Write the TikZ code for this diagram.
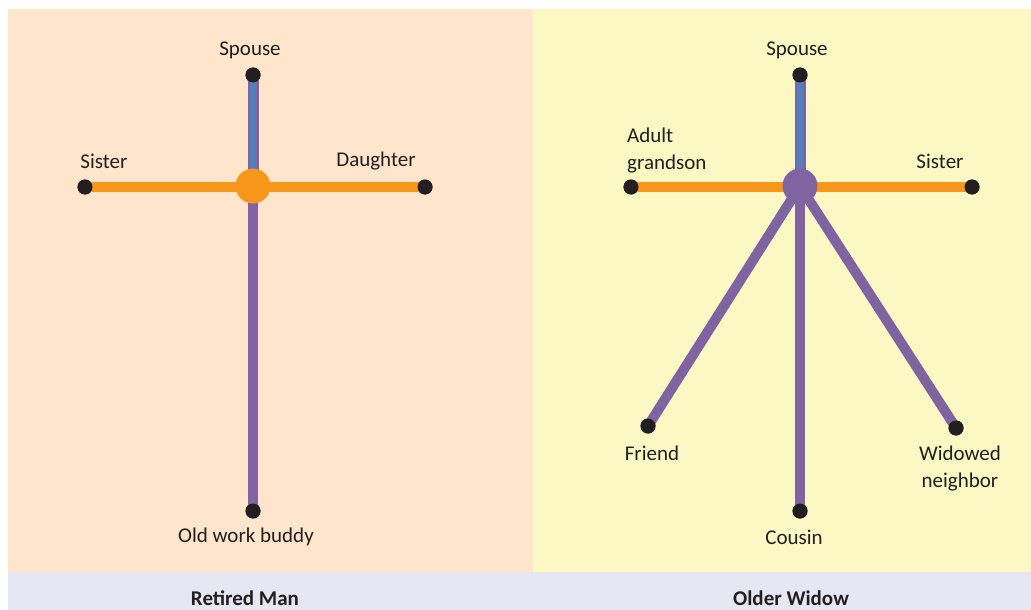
\documentclass[tikz,border=0pt]{standalone}
\usepackage{fontspec}
\setmainfont{Carlito}
\definecolor{peach}{RGB}{254,229,204}
\definecolor{paleyellow}{RGB}{252,248,196}
\definecolor{lavender}{RGB}{231,230,243}
\definecolor{tieorange}{RGB}{247,152,29}
\definecolor{tiepurple}{RGB}{128,100,162}
\definecolor{tieblue}{RGB}{79,129,189}
\definecolor{dotblack}{RGB}{35,31,32}
\begin{document}
\begin{tikzpicture}[x=1pt,y=-1pt,
  dot/.style={circle,fill=dotblack,inner sep=0pt,minimum size=15pt},
  hub/.style={circle,inner sep=0pt,minimum size=35pt},
  lbl/.style={font=\fontsize{21}{27}\selectfont,text=dotblack,inner sep=0pt},
  title/.style={font=\fontsize{21}{27}\selectfont\bfseries,text=dotblack,inner sep=0pt},
  orangetie/.style={draw=tieorange,line width=10pt},
  purpletie/.style={draw=tiepurple,line width=10pt},
  spouseouter/.style={draw=tiepurple,line width=11pt},
  spouseinner/.style={draw=tieblue,line width=6pt}]
\useasboundingbox (0,0) rectangle (1031,610);
\fill[white] (0,0) rectangle (1031,610);
\fill[peach] (8,9) rectangle (533,572);
\fill[paleyellow] (533,9) rectangle (1031,572);
\fill[lavender] (8,572) rectangle (1031,610);

% ---- Retired Man ----
\coordinate (c1) at (253,186);
\node[dot] (s1) at (253,75) {};
\node[dot] (sis1) at (85,187) {};
\node[dot] (d1) at (425,187) {};
\node[dot] (b1) at (253,511) {};
\draw[spouseouter] (c1) -- (s1.center);
\draw[spouseinner] (c1) -- (s1.center);
\draw[purpletie] (c1) -- (b1.center);
\draw[orangetie] (sis1.center) -- (d1.center);
\node[hub,fill=tieorange] (h1) at (c1) {};
\node[dot] at (s1) {};
\node[dot] at (sis1) {};
\node[dot] at (d1) {};
\node[dot] at (b1) {};
\node[lbl] (ls1) at (250,50) {Spouse};
\node[lbl] (lsis1) at (104,161) {Sister};
\node[lbl] (ld1) at (376,161) {Daughter};
\node[lbl] (lb1) at (246,537) {Old work buddy};
\node[title] (t1) at (245,598) {Retired Man};

% ---- Older Widow ----
\coordinate (c2) at (800,186);
\node[dot] (s2) at (800,75) {};
\node[dot] (g2) at (631,187) {};
\node[dot] (sis2) at (972,187) {};
\node[dot] (f2) at (648,426) {};
\node[dot] (w2) at (956,428) {};
\node[dot] (co2) at (800,511) {};
\draw[spouseouter] (c2) -- (s2.center);
\draw[spouseinner] (c2) -- (s2.center);
\draw[orangetie] (g2.center) -- (sis2.center);
\draw[purpletie] (c2) -- (f2.center);
\draw[purpletie] (c2) -- (w2.center);
\draw[purpletie] (c2) -- (co2.center);
\node[hub,fill=tiepurple] (h2) at (c2) {};
\node[dot] at (s2) {};
\node[dot] at (g2) {};
\node[dot] at (sis2) {};
\node[dot] at (f2) {};
\node[dot] at (w2) {};
\node[dot] at (co2) {};
\node[lbl] (ls2) at (797,50) {Spouse};
\node[lbl,anchor=west,align=left] (lg2) at (627,151) {Adult\\grandson};
\node[lbl] (lsis2) at (940,161) {Sister};
\node[lbl] (lf2) at (652,453) {Friend};
\node[lbl,align=center] (lw2) at (960,469) {Widowed\\neighbor};
\node[lbl] (lco2) at (794,537) {Cousin};
\node[title] (t2) at (791,598) {Older Widow};
\end{tikzpicture}
\end{document}
